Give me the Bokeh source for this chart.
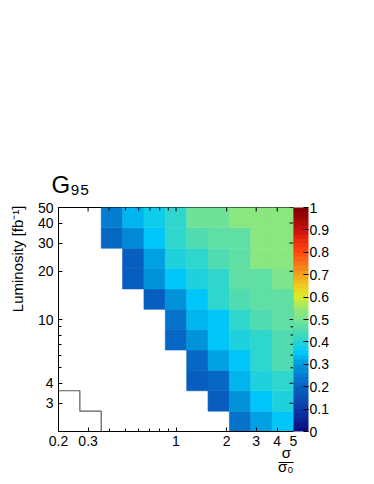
import numpy as np
from bokeh.plotting import figure
from bokeh.models import (LinearColorMapper, ColorBar, FixedTicker, Title,
                          ColumnDataSource, CustomJSTickFormatter)
from bokeh.transform import transform
from bokeh.embed import file_html
from bokeh.resources import INLINE

# ---------------- data ----------------
x_limits = [0.2, 5.0]      # sigma / sigma0
y_limits = [2.0, 50.0]     # luminosity [fb^-1]
n_bins_x = 11
n_bins_y = 11

x_tick_values = [0.2, 0.3, 1, 2, 3, 4, 5]
x_minor_values = [0.4, 0.5, 0.6, 0.7, 0.8, 0.9]
y_tick_values = [3, 4, 10, 20, 30, 40, 50]
y_minor_values = [5, 6, 7, 8, 9]
z_tick_values = [0, 0.1, 0.2, 0.3, 0.4, 0.5, 0.6, 0.7, 0.8, 0.9, 1]

N = float("nan")
# G95 per luminosity bin (bottom row first), columns = sigma/sigma0 bins
lumi_bin_01 = [N, N, N, N, N, N, N, N, 0.23, 0.31, 0.35]
lumi_bin_02 = [N, N, N, N, N, N, N, 0.18, 0.28, 0.35, 0.38]
lumi_bin_03 = [N, N, N, N, N, N, 0.18, 0.21, 0.33, 0.38, 0.41]
lumi_bin_04 = [N, N, N, N, N, N, 0.21, 0.30, 0.35, 0.41, 0.44]
lumi_bin_05 = [N, N, N, N, N, 0.20, 0.28, 0.35, 0.39, 0.41, 0.44]
lumi_bin_06 = [N, N, N, N, N, 0.23, 0.33, 0.35, 0.41, 0.44, 0.47]
lumi_bin_07 = [N, N, N, N, 0.19, 0.29, 0.35, 0.41, 0.44, 0.47, 0.47]
lumi_bin_08 = [N, N, N, 0.19, 0.28, 0.34, 0.38, 0.41, 0.47, 0.47, 0.51]
lumi_bin_09 = [N, N, N, 0.19, 0.30, 0.38, 0.41, 0.44, 0.47, 0.53, 0.53]
lumi_bin_10 = [N, N, 0.20, 0.27, 0.35, 0.41, 0.44, 0.47, 0.47, 0.53, 0.53]
lumi_bin_11 = [N, N, 0.25, 0.33, 0.37, 0.40, 0.48, 0.48, 0.53, 0.53, 0.53]

# outline (top bin index per sigma bin) of the region at lower left
outline_top_bin = [2, 1]

# palette stops (value, colour)
palette_stops = [
    (0.00, "#0a0a80"), (0.10, "#0c3aa6"), (0.20, "#0862c2"), (0.30, "#0098dc"),
    (0.35, "#00c6fa"), (0.40, "#26d4d4"), (0.45, "#50dcb0"), (0.50, "#76e492"),
    (0.55, "#98e870"), (0.60, "#d8ee28"), (0.65, "#f0cc20"), (0.70, "#f2a01e"),
    (0.75, "#f87418"), (0.80, "#ff4810"), (0.85, "#ec2a10"), (0.90, "#c81010"),
    (1.00, "#780000"),
]

rows = [lumi_bin_01, lumi_bin_02, lumi_bin_03, lumi_bin_04, lumi_bin_05, lumi_bin_06,
        lumi_bin_07, lumi_bin_08, lumi_bin_09, lumi_bin_10, lumi_bin_11]

# ---------------- helpers ----------------
def hex2rgb(h):
    h = h.lstrip("#")
    return np.array([int(h[i:i + 2], 16) for i in (0, 2, 4)], dtype=float)

def build_palette(stops, n=50):
    vs = np.array([s[0] for s in stops])
    cs = np.array([hex2rgb(s[1]) for s in stops])
    out = []
    for k in range(n):
        t = (k + 0.5) / n
        rgb = [np.interp(t, vs, cs[:, c]) for c in range(3)]
        out.append("#%02x%02x%02x" % tuple(int(round(v)) for v in rgb))
    return out

palette = build_palette(palette_stops, 50)

x_edges = np.geomspace(x_limits[0], x_limits[1], n_bins_x + 1)
y_edges = np.geomspace(y_limits[0], y_limits[1], n_bins_y + 1)

left, right, bottom, top, zval = [], [], [], [], []
for j, row in enumerate(rows):
    for i, v in enumerate(row):
        if not np.isnan(v):
            left.append(x_edges[i]); right.append(x_edges[i + 1])
            bottom.append(y_edges[j]); top.append(y_edges[j + 1])
            zval.append(v)
src = ColumnDataSource(dict(left=left, right=right, bottom=bottom, top=top, z=zval))

ox, oy = [], []
for i, b in enumerate(outline_top_bin):
    ox += [x_edges[i], x_edges[i + 1]]
    oy += [y_edges[b], y_edges[b]]
ox.append(x_edges[len(outline_top_bin)])
oy.append(y_edges[0])

# ---------------- figure ----------------
FL, FT, FW, FH = 55, 207, 235, 224
FONT = "Liberation Sans"

p = figure(frame_width=FW, frame_height=FH, x_axis_type="log", y_axis_type="log",
           x_range=tuple(x_limits), y_range=tuple(y_limits),
           output_backend="svg", toolbar_location=None,
           min_border_left=FL, min_border_top=FT, min_border_bottom=50, min_border_right=60)
p.grid.visible = False
p.outline_line_color = "black"
p.outline_line_width = 1
p.background_fill_color = "white"

mapper = LinearColorMapper(palette=palette, low=0, high=1)
p.quad(left="left", right="right", bottom="bottom", top="top", source=src,
       fill_color=transform("z", mapper), line_color=transform("z", mapper), line_width=0.6)
p.line(ox, oy, line_color="#5a5a5a", line_width=1.2)

# ticks on the top and right frame edges (half of each dash is clipped by the frame)
p.scatter(x=x_tick_values, y=[y_limits[1]] * len(x_tick_values), marker="dash",
          angle=np.pi / 2, size=8, line_color="black", line_width=1)
p.scatter(x=x_minor_values, y=[y_limits[1]] * len(x_minor_values), marker="dash",
          angle=np.pi / 2, size=6, line_color="black", line_width=1)
p.scatter(x=[x_limits[1]] * len(y_tick_values), y=y_tick_values, marker="dash",
          size=8, line_color="black", line_width=1)
p.scatter(x=[x_limits[1]] * len(y_minor_values), y=y_minor_values, marker="dash",
          size=6, line_color="black", line_width=1)

fmt = CustomJSTickFormatter(code="return String(tick)")

def style_axis(ax):
    ax.axis_line_color = "black"
    ax.major_tick_in = 4
    ax.major_tick_out = 0
    ax.minor_tick_in = 3
    ax.minor_tick_out = 0
    ax.major_tick_line_color = "black"
    ax.minor_tick_line_color = "black"
    ax.major_label_text_font = FONT
    ax.major_label_text_font_size = "14px"
    ax.major_label_text_color = "black"
    ax.formatter = fmt

xa = p.xaxis[0]
xa.ticker = FixedTicker(ticks=x_tick_values, minor_ticks=x_minor_values)
style_axis(xa)
xa.major_label_standoff = 4
ya = p.yaxis[0]
ya.ticker = FixedTicker(ticks=y_tick_values, minor_ticks=y_minor_values)
style_axis(ya)
ya.major_label_standoff = 5

cb = ColorBar(color_mapper=mapper, ticker=FixedTicker(ticks=z_tick_values), formatter=fmt,
              width=15, height=FH, padding=0, location=(0, 0),
              major_tick_in=5, major_tick_out=0, major_tick_line_color="black",
              minor_tick_line_color=None, bar_line_color=None, border_line_color=None,
              label_standoff=1, major_label_text_font=FONT,
              major_label_text_font_size="14px", major_label_text_color="black")
p.add_layout(cb, "right")

# title G_95
p.title.text = "G\u2089\u2085"
p.title.text_font = FONT
p.title.text_font_size = "24px"
p.title.text_font_style = "normal"
p.title.text_color = "black"
p.title.align = "left"
p.title.offset = -7
p.title.standoff = 20
p.title.vertical_align = "bottom"

# y title (left panel, top aligned)
p.add_layout(Title(text="Luminosity [fb\u207b\u00b9]", text_font=FONT, text_font_size="15px",
                   text_font_style="normal", text_color="black", align="right",
                   vertical_align="middle", offset=-2, standoff=15), "left")

# x title: sigma over sigma_0 (stacked below the axis)
p.add_layout(Title(text="\u03c3", text_font=FONT, text_font_size="15px", text_font_style="normal",
                   text_color="black", align="right", vertical_align="bottom",
                   offset=2.5, standoff=-13), "below")
p.add_layout(Title(text="\u2014", text_font=FONT, text_font_size="15px", text_font_style="normal",
                   text_color="black", align="right", vertical_align="bottom",
                   offset=0, standoff=-10), "below")
p.add_layout(Title(text="\u03c3\u2080", text_font=FONT, text_font_size="15px",
                   text_font_style="normal", text_color="black", align="right",
                   vertical_align="bottom", offset=0, standoff=-16), "below")

open("out.html", "w").write(file_html(p, INLINE))
